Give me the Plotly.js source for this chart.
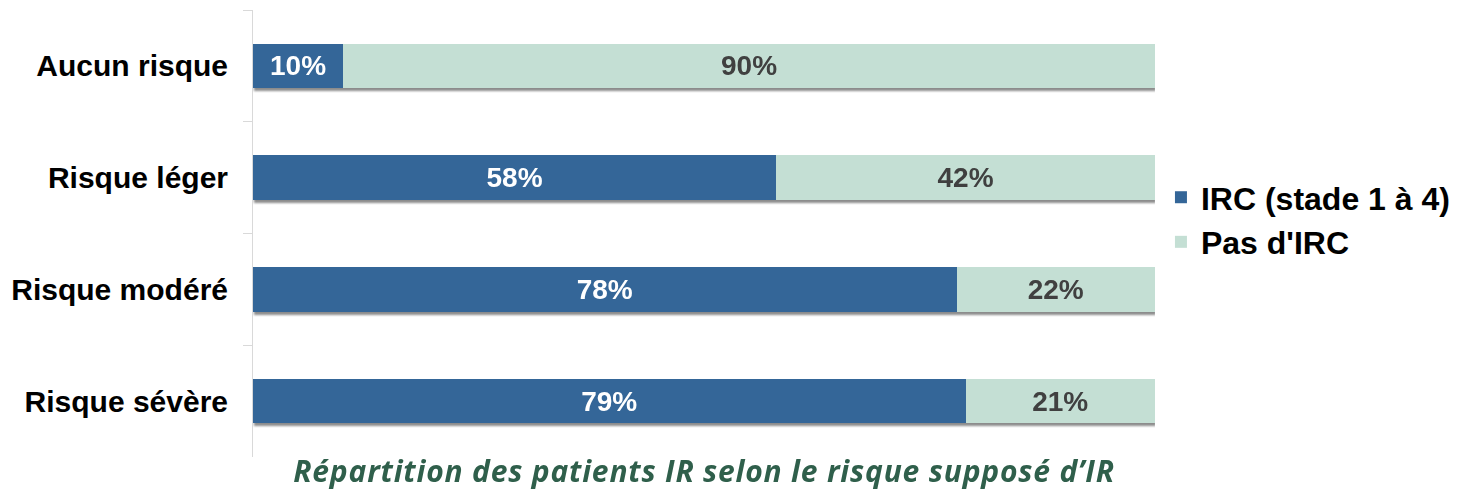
<!DOCTYPE html>
<html>
<head>
<meta charset="utf-8">
<script src="https://cdn.plot.ly/plotly-3.0.1.min.js"></script>
<style>
  html, body { margin: 0; padding: 0; background: #fff; }
  #chart { width: 1464px; height: 492px; }
  .barlayer { filter: drop-shadow(1px 3px 1px rgba(0,0,0,0.45)); }
  .gtitle { letter-spacing: 0.8px; }
</style>
</head>
<body>
<div id="chart"></div>
<script>
const categories = ["Aucun risque", "Risque léger", "Risque modéré", "Risque sévère"];
const ircValues = [10, 58, 78, 79];
const pasIrcValues = [90, 42, 22, 21];
const seriesNames = ["IRC (stade 1 à 4)", "Pas d'IRC"];
const chartTitle = "Répartition des patients IR selon le risque supposé d’IR";

const baseFont = "Liberation Sans, Arial, sans-serif";

const traces = [
  {
    type: "bar", orientation: "h",
    name: seriesNames[0],
    y: categories, x: ircValues,
    marker: { color: "#346698" },
    texttemplate: "%{x}%",
    textposition: "inside",
    insidetextanchor: "middle",
    constraintext: "none",
    textfont: { family: baseFont, size: 28, color: "#ffffff", weight: "bold" },
    hoverinfo: "skip"
  },
  {
    type: "bar", orientation: "h",
    name: seriesNames[1],
    y: categories, x: pasIrcValues,
    marker: { color: "#C4DFD4" },
    texttemplate: "%{x}%",
    textposition: "inside",
    insidetextanchor: "middle",
    constraintext: "none",
    textfont: { family: baseFont, size: 28, color: "#404040", weight: "bold" },
    hoverinfo: "skip"
  }
];

const layout = {
  width: 1464, height: 492,
  margin: { l: 253, r: 309, t: 10, b: 35, autoexpand: false },
  barmode: "stack",
  bargap: 0.6,
  paper_bgcolor: "#ffffff",
  plot_bgcolor: "#ffffff",
  showlegend: true,
  legend: {
    xref: "container", yref: "container",
    x: 0.793, y: 0.553, xanchor: "left", yanchor: "middle",
    font: { family: baseFont, size: 32, color: "#000000", weight: "bold" },
    traceorder: "normal",
    itemwidth: 30,
    tracegroupgap: 0
  },
  title: {
    text: chartTitle,
    font: { family: "Open Sans, sans-serif", size: 30, color: "#2F5F4B", weight: "bold", style: "italic" },
    xref: "paper", x: 0.5, xanchor: "center",
    yref: "container", y: 0.042, yanchor: "middle"
  },
  xaxis: {
    range: [0, 100],
    visible: false,
    fixedrange: true
  },
  yaxis: {
    type: "category",
    autorange: "reversed",
    showline: true, linecolor: "#d9d9d9", linewidth: 1,
    ticks: "outside", tickson: "boundaries", ticklen: 9, tickcolor: "#d9d9d9", tickwidth: 1,
    showgrid: false,
    zeroline: false,
    ticklabelstandoff: 18,
    tickfont: { family: baseFont, size: 30, color: "#000000", weight: "bold" },
    fixedrange: true
  }
};

Plotly.newPlot("chart", traces, layout, { displayModeBar: false, staticPlot: true });
</script>
</body>
</html>
